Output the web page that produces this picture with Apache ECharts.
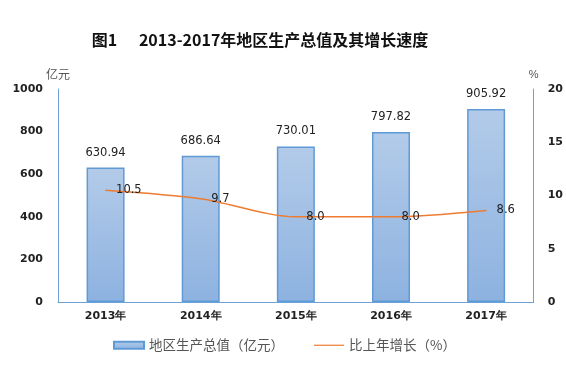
<!DOCTYPE html>
<html><head><meta charset="utf-8">
<script src="https://cdn.jsdelivr.net/npm/echarts@6/dist/echarts.min.js"></script>
<style>html,body{margin:0;padding:0;background:#fff}#c{width:566px;height:365px}</style>
</head><body><div id="c"></div>
<script>
const categories = ['2013年','2014年','2015年','2016年','2017年'];
const gdp = [630.94, 686.64, 730.01, 797.82, 905.92];
const growth = [10.5, 9.7, 8.0, 8.0, 8.6];
const growthLabels = ['10.5','9.7','8.0','8.0','8.6'];

const chart = echarts.init(document.getElementById('c'));
const axisColor = '#6fa3d8';
const tickFont = {color:'#222', fontSize:11, fontWeight:'bold', fontFamily:'DejaVu Sans'};
chart.setOption({
  animation:false,
  title:{text:'图1      2013-2017年地区生产总值及其增长速度', left:255, top:27, textAlign:'center',
    textStyle:{fontSize:16, fontWeight:'bold', color:'#111', fontFamily:'Noto Sans CJK SC'}},
  grid:{left:58, right:32, top:89, bottom:63},
  legend:{bottom:8, left:108, itemGap:30, itemWidth:30, itemHeight:7,
    textStyle:{fontSize:13.5, color:'#555', fontFamily:'Noto Sans CJK SC'},
    data:[{name:'地区生产总值（亿元）', icon:'rect'},
          {name:'比上年增长（%）', icon:'path://M0,0H30V1.2H0Z', itemStyle:{color:'#ee7b30', opacity:1}}]},
  xAxis:{type:'category', data:categories,
    axisLine:{lineStyle:{color:axisColor, width:1}}, axisTick:{show:false},
    axisLabel:{color:'#222', fontSize:11, fontWeight:'bold', fontFamily:'DejaVu Sans', margin:9}},
  yAxis:[
    {type:'value', min:0, max:1000, interval:200, name:'亿元',
      nameTextStyle:{color:'#555', fontSize:12, fontFamily:'Noto Sans CJK SC', align:'center'},
      nameGap:9,
      axisLine:{show:true, lineStyle:{color:axisColor}}, axisTick:{show:false}, splitLine:{show:false},
      axisLabel:Object.assign({margin:15, formatter:v=>String(v)}, tickFont)},
    {type:'value', min:0, max:20, interval:5, name:'%',
      nameTextStyle:{color:'#555', fontSize:11, align:'center'}, nameGap:9,
      axisLine:{show:true, lineStyle:{color:axisColor}}, axisTick:{show:false}, splitLine:{show:false},
      axisLabel:Object.assign({margin:14}, tickFont)}
  ],
  series:[
    {name:'地区生产总值（亿元）', type:'bar', data:gdp, barWidth:38,
      itemStyle:{borderColor:'#5f9ad6', borderWidth:1.5,
        color:new echarts.graphic.LinearGradient(0,0,0,1,[{offset:0,color:'#b3cbe9'},{offset:1,color:'#8db2e0'}])},
      label:{show:true, position:'top', distance:9, color:'#222', fontSize:11.5, fontFamily:'DejaVu Sans',
        formatter:p=>gdp[p.dataIndex].toFixed(2)}},
    {name:'比上年增长（%）', type:'line', yAxisIndex:1, data:growth, smooth:0.3,
      symbol:'circle', symbolSize:1, showSymbol:true, itemStyle:{color:'#ee7b30'},
      lineStyle:{color:'#ee7b30', width:1.5},
      label:{show:true, position:'right', distance:10, color:'#222', fontSize:11.5, fontFamily:'DejaVu Sans',
        formatter:p=>growthLabels[p.dataIndex]}}
  ]
});
</script></body></html>
